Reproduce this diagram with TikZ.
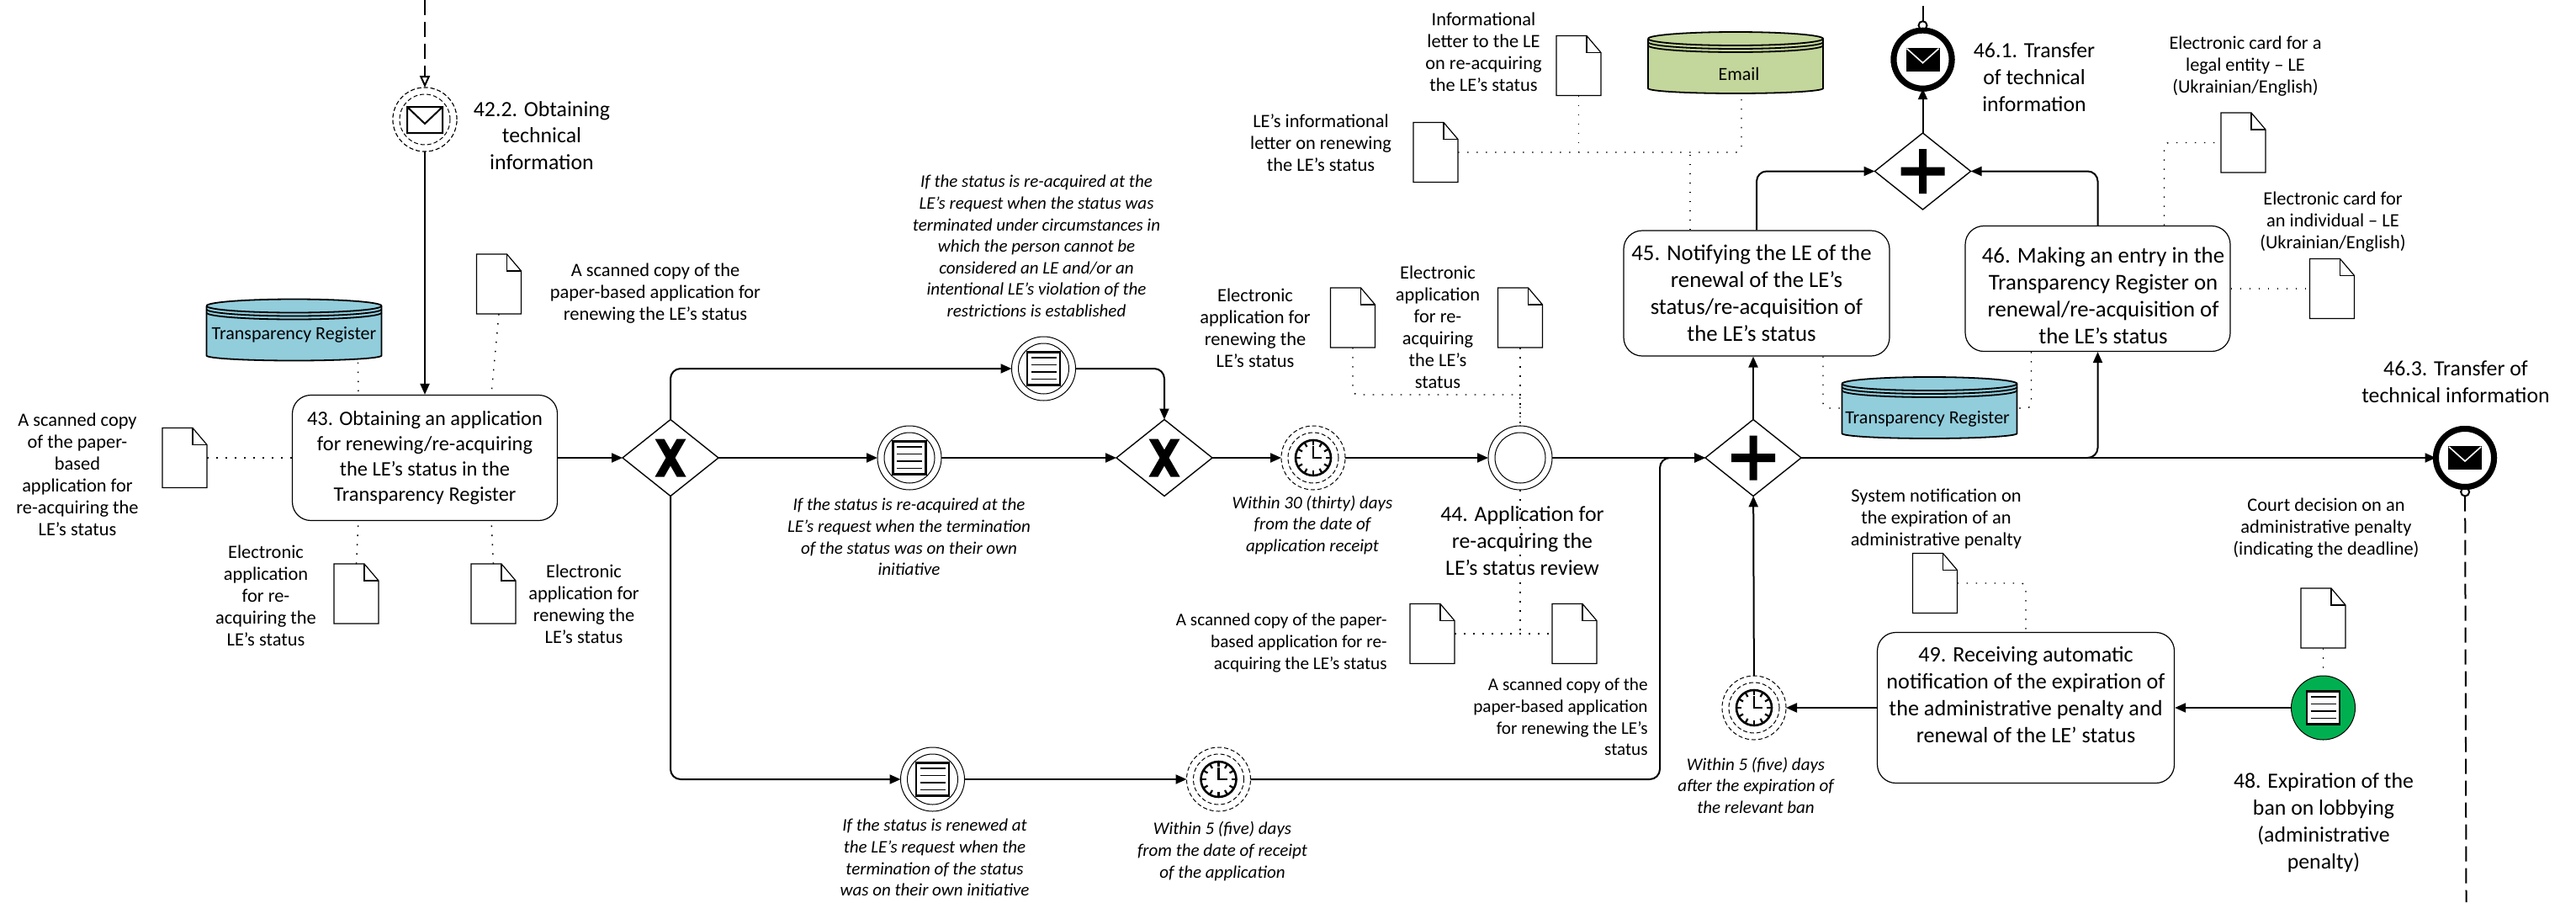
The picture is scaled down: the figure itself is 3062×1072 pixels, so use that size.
\documentclass[tikz,border=0pt]{standalone}
\usepackage{fontspec}
\setmainfont{Carlito}
\usetikzlibrary{shapes,arrows,arrows.meta,positioning}
\tikzset{flow/.style={draw,line width=1pt,rounded corners=6pt,-{Triangle[length=6.5pt,width=5.5pt]}}}
\tikzset{assoc/.style={draw,line width=0.7pt,dash pattern=on 0.8pt off 4.7pt,rounded corners=3pt}}
\tikzset{msgflow/.style={draw,line width=1pt,dash pattern=on 9pt off 4pt}}
\tikzset{taskbox/.style={rectangle,draw,fill=white,rounded corners=11pt,line width=0.6pt,align=center,inner sep=0pt,font=\fontsize{13.4}{16}\selectfont}}
\tikzset{gate/.style={diamond,draw,fill=white,line width=0.7pt,inner sep=0pt,outer sep=0pt,minimum width=57pt,minimum height=45.5pt}}
\tikzset{ev/.style={circle,draw,fill=white,line width=0.5pt,inner sep=0pt,outer sep=0pt,minimum size=38pt}}
\tikzset{evdash/.style={ev,dash pattern=on 2.5pt off 1.5pt}}
\tikzset{evend/.style={ev,line width=3.5pt,minimum size=34.5pt}}
\tikzset{docbase/.style={rectangle,inner sep=0pt,outer sep=0pt,minimum width=26.5pt,minimum height=35.5pt}}
\tikzset{dbbase/.style={rectangle,inner sep=0pt,outer sep=0pt,minimum width=104pt,minimum height=38pt}}
\tikzset{lbl/.style={align=center,inner sep=0pt,font=\fontsize{11.2}{13}\selectfont}}
\tikzset{lblsm/.style={lbl,align=right,anchor=east,font=\fontsize{10.6}{12.8}\selectfont}}
\tikzset{lblit/.style={lbl,font=\fontsize{10.5}{12.8}\selectfont\itshape}}
\tikzset{lblbig/.style={align=center,inner sep=0pt,font=\fontsize{12.9}{15.9}\selectfont}}
\definecolor{regblue}{RGB}{146,205,220}
\definecolor{mailgreen}{RGB}{195,214,155}
\definecolor{startgreen}{RGB}{0,176,80}
% document with a folded corner
\newcommand{\docnode}[2]{
  \node[docbase,#2] (#1) {};
  \draw[line width=0.6pt,fill=white] (#1.north west) -- ([xshift=-8.5pt]#1.north east) -- ([yshift=-10pt]#1.north east) -- (#1.south east) -- (#1.south west) -- cycle;
  \draw[line width=0.6pt] ([xshift=-8.5pt]#1.north east) -- ([xshift=-8.5pt,yshift=-10pt]#1.north east) -- ([yshift=-10pt]#1.north east);
}
\newcommand{\dbnode}[5]{
  \node[dbbase] (#1) at #2 {};
  \draw[shift={(#1.center)},line width=0.9pt,fill=#3] (-104,-29) -- (-104,30) arc[start angle=180,end angle=360,x radius=52pt,y radius=3pt] -- (104,-29) arc[start angle=0,end angle=180,x radius=52pt,y radius=4pt];
  \draw[shift={(#1.center)},line width=0.9pt] (-104,-29) arc[start angle=180,end angle=360,x radius=52pt,y radius=4pt];
  \draw[shift={(#1.center)},line width=0.9pt] (-104,-25) arc[start angle=180,end angle=360,x radius=52pt,y radius=4pt];
  \draw[shift={(#1.center)},line width=0.9pt] (-104,-21) arc[start angle=180,end angle=360,x radius=52pt,y radius=4pt];
  \node[inner sep=0pt,font=\fontsize{11}{13}\selectfont] (#1text) at ([#5]#1.center) {#4};
}
\newcommand{\ringin}[2][]{\draw[line width=0.5pt,#1] (#2.center) circle[radius=15pt];}
\newcommand{\envopen}[1]{
  \draw[shift={(#1.center)},line width=1pt] (-21,-15) rectangle (21,16) (-21,-15) -- (0,5) -- (21,-15);
}
\newcommand{\envfull}[1]{
  \fill[shift={(#1.center)}] (-20,-14) rectangle (20,14);
  \draw[shift={(#1.center)},white,line width=0.8pt] (-19,-13) -- (0,4) -- (19,-13);
}
\newcommand{\listsym}[1]{
  \draw[shift={(#1.center)},line width=1.2pt,fill=white] (-19.5,-19.5) rectangle (19.5,19.5);
  \foreach \ly in {-13,-4.5,4,12.5}
    \draw[shift={(#1.center)},line width=0.8pt] (-15,\ly) -- (15,\ly);
}
\newcommand{\clocksym}[1]{
  \draw[line width=1.3pt] (#1.center) circle[radius=10.5pt];
  \foreach \a in {0,30,...,330}
    \draw[line width=1.1pt] ([shift={(\a:7.5pt)}]#1.center) -- ([shift={(\a:10.5pt)}]#1.center);
  \draw[shift={(#1.center)},line width=1.1pt] (0,-14) -- (0,0) -- (10,0);
}
\newcommand{\xsym}[1]{
  \fill[shift={(#1.center)}] (-18.5,-22.5) -- (-7.5,-22.5) -- (18.5,22.5) -- (7.5,22.5) -- cycle;
  \fill[shift={(#1.center)}] (18.5,-22.5) -- (7.5,-22.5) -- (-18.5,22.5) -- (-7.5,22.5) -- cycle;
}
\newcommand{\plussym}[1]{
  \fill[shift={(#1.center)}] (-26,-5) rectangle (26,5) (-4.5,-26.5) rectangle (4.5,26.5);
}
\newcommand{\lpad}{\hspace*{6.5pt}}
\newcommand{\rpad}{\hspace*{6pt}}

\begin{document}
\begin{tikzpicture}[x=0.5pt,y=-0.5pt]
    \useasboundingbox (0,0) rectangle (3062,1072);

    \coordinate (topa) at (505,0);
    \coordinate (topb) at (2285.5,0);
    \coordinate (botb) at (2931.5,1072);
    \coordinate (bend) at (1973,544);

    \node[taskbox,minimum width=157.5pt,minimum height=74.5pt,font=\fontsize{12.2}{15}\selectfont] (box43) at (505,544) {43. Obtaining an application \\ for renewing/re-acquiring \\ the LE’s status in the \\ Transparency Register};
    \node[gate,right of=box43,node distance=146pt] (xa) {};
    \node[ev,right of=xa,node distance=142pt] (evmid) {};
    \node[gate,right of=evmid,node distance=151.5pt] (xb) {};
    \node[evdash,right of=xb,node distance=88.5pt] (tmmid) {};
    \node[ev,right of=tmmid,node distance=123pt] (ev44) {};
    \node[gate,right of=ev44,node distance=138.5pt] (plusa) {};
    \node[evend,right of=plusa,node distance=423pt] (end463) {};
    \node[ev] (evtop) at (1240.5,438) {};
    \node[ev] (evbot) at (1108.5,926) {};
    \node[evdash,right of=evbot,node distance=170pt] (tmbot) {};
    \node[evdash] (ev422) at (505,142) {};
    \node[gate] (plusb) at (2285.5,203.5) {};
    \node[evend] (end461) at (2285.5,70.7) {};
    \node[taskbox,minimum width=158pt,minimum height=74.5pt] (box45) at (2088,348.5) {45. Notifying the LE of the\rpad \\ renewal of the LE’s\rpad \\ status/re-acquisition of\rpad \\ the LE’s status\rpad};
    \node[taskbox,minimum width=157.5pt,minimum height=74.5pt] (box46) at (2493.5,343) {\rule{0pt}{18pt}\lpad 46. Making an entry in the \\ \lpad Transparency Register on \\ \lpad renewal/re-acquisition of \\ \lpad the LE’s status};
    \node[taskbox,minimum width=176.5pt,minimum height=89.5pt,font=\fontsize{13.1}{16}\selectfont] (box49) at (2408,841) {49. Receiving automatic \\ notification of the expiration of \\ the administrative penalty and \\ renewal of the LE’ status \\ \mbox{}};
    \node[evdash] (tmplus) at (2085,841) {};
    \node[ev,fill=startgreen] (ev48) at (2761.5,841) {};

    % data stores
    \dbnode{regA}{(349.5,392.5)}{regblue}{Transparency Register}{yshift=-2.8pt}
    \dbnode{regB}{(2293.5,485)}{regblue}{Transparency Register}{xshift=-1.2pt,yshift=-6.5pt}
    \dbnode{mail}{(2063,75)}{mailgreen}{Email}{xshift=2pt,yshift=-6.5pt}

    % documents
    \docnode{docA}{at={(593,337.5)}}
    \docnode{docB}{at={(219.5,544)}}
    \docnode{docC}{at={(423.5,705.5)}}
    \docnode{docD}{at={(586.5,705.5)}}
    \docnode{docE}{at={(1608,377.5)}}
    \docnode{docF}{at={(1807,377.5)}}
    \docnode{docG}{at={(1876.5,78)}}
    \docnode{docH}{at={(1706.5,181)}}
    \docnode{docI}{at={(1702.5,753)}}
    \docnode{docJ}{at={(1871.5,753)}}
    \docnode{docK}{at={(2666.5,169.5)}}
    \docnode{docL}{at={(2772,343)}}
    \docnode{docM}{at={(2300,693)}}
    \docnode{docN}{at={(2761.5,734.5)}}

    % labels
    \node[lblbig] (lb422) at (644,161) {42.2. Obtaining \\ technical \\ information};
    \node[lbl] (lbA) at (779,348.5) {A scanned copy of the \\ paper-based application for \\ renewing the LE’s status};
    \node[lbl] (lbB) at (92,563.5) {A scanned copy \\ of the paper- \\ based \\ application for \\ re-acquiring the \\ LE’s status};
    \node[lbl] (lbC) at (316,707.5) {Electronic \\ application \\ for re- \\ acquiring the \\ LE’s status};
    \node[lbl] (lbD) at (694,718) {Electronic \\ application for \\ renewing the \\ LE’s status};
    \node[lbl] (lbE) at (1492,390) {Electronic \\ application for \\ renewing the \\ LE’s status};
    \node[lbl] (lbF) at (1709,388.5) {Electronic \\ application \\ for re- \\ acquiring \\ the LE’s \\ status};
    \node[lbl] (lbG) at (1763.5,62) {Informational \\ letter to the LE \\ on re-acquiring \\ the LE’s status};
    \node[lbl] (lbH) at (1570,169.5) {LE’s informational \\ letter on renewing \\ the LE’s status};
    \node[lblsm] (lbI) at (1649,764) {A scanned copy of the paper- \\ based application for re- \\ acquiring the LE’s status};
    \node[lblsm] (lbJ) at (1959,852) {A scanned copy of the \\ paper-based application \\ for renewing the LE’s \\ status};
    \node[lbl] (lbK) at (2669,79) {Electronic card for a \\ legal entity – LE \\ (Ukrainian/English)};
    \node[lbl] (lbL) at (2773,264) {Electronic card for \\ an individual – LE \\ (Ukrainian/English)};
    \node[lbl] (lbM) at (2301.5,617) {System notification on \\ the expiration of an \\ administrative penalty};
    \node[lbl] (lbN) at (2765,628) {Court decision on an \\ administrative penalty \\ (indicating the deadline)};
    \node[lblit] (itA) at (1232,292.5) {If the status is re-acquired at the \\ LE’s request when the status was \\ terminated under circumstances in \\ which the person cannot be \\ considered an LE and/or an \\ intentional LE’s violation of the \\ restrictions is established};
    \node[lblit] (itB) at (1080.5,638) {If the status is re-acquired at the \\ LE’s request when the termination \\ of the status was on their own \\ initiative};
    \node[lblit] (itC) at (1111,1019) {If the status is renewed at \\ the LE’s request when the \\ termination of the status \\ was on their own initiative};
    \node[lblit] (itD) at (1560,624) {Within 30 (thirty) days \\ from the date of \\ application receipt};
    \node[lblit] (itE) at (1453,1011.5) {Within 5 (five) days \\ from the date of receipt \\ of the application};
    \node[lblit] (itF) at (2087,933) {Within 5 (five) days \\ after the expiration of \\ the relevant ban};
    \node[lblbig] (lb44) at (1809.5,642.5) {44. Application for \\ re-acquiring the \\ LE’s status review};
    \node[lblbig] (lb461) at (2418,91.5) {46.1. Transfer \\ of technical \\ information};
    \node[lblbig] (lb463) at (2919,454) {46.3. Transfer of \\ technical information};
    \node[lblbig] (lb48) at (2762,977.5) {48. Expiration of the \\ ban on lobbying \\ (administrative \\ penalty)};

    % dotted associations
    \path[assoc] ([xshift=38pt]regA.south) -- ([xshift=-39.5pt]box43.north);
    \path[assoc] (docA.south) -- ([xshift=39.5pt]box43.north);
    \path[assoc] (docB) -- (box43);
    \path[assoc] (docC.north) -- ([xshift=-39.5pt]box43.south);
    \path[assoc] (docD.north) -- ([xshift=39.5pt]box43.south);
    \path[assoc] (docE.south) |- (ev44.north |- 0,469) -- (ev44.north);
    \path[assoc] (docF.south) -- (ev44.north);
    \path[assoc] (ev44.south) -- (ev44.south |- docI);
    \path[assoc] (docI) -- (docJ);
    \path[assoc] (docH) -- ([xshift=3.5pt]mail.south |- docH) -- ([xshift=3.5pt]mail.south);
    \path[assoc] (docG.south) -- (docG.south |- docH);
    \path[assoc] ([xshift=-39.5pt]box45.north) -- ([xshift=-39.5pt]box45.north |- docH);
    \path[assoc] ([xshift=39.5pt]box45.south) |- (regB.west);
    \path[assoc] ([xshift=39.5pt]box46.north) |- (docK.west);
    \path[assoc] (box46) -- (docL);
    \path[assoc] ([xshift=-39.5pt]box46.south) |- (regB.east);
    \path[assoc] (docM) -| (box49.north);
    \path[assoc] (docN.south) -- (ev48.north);

    % sequence flows
    \path[flow] (ev422) -- (box43);
    \path[flow] (box43) -- (xa);
    \path[flow] (xa.north) |- (evtop);
    \path[flow] (evtop) -| (xb.north);
    \path[flow] (xa) -- (evmid);
    \path[flow] (evmid) -- (xb);
    \path[flow] (xb) -- (tmmid);
    \path[flow] (tmmid) -- (ev44);
    \path[flow] (ev44) -- (plusa);
    \path[flow] (xa.south) |- (evbot);
    \path[flow] (evbot) -- (tmbot);
    \path[flow] (tmbot) -| (bend) -- (plusa);
    \path[flow] (plusa.north) -- (plusa.north |- box45.south);
    \path[flow] (plusa.east) -| (box46.south);
    \path[flow] (plusa) -- (end463);
    \path[flow] (box45.north) |- (plusb.west);
    \path[flow] (box46.north) |- (plusb.east);
    \path[flow] (plusb) -- (end461);
    \path[flow] (tmplus) -- (plusa);
    \path[flow] (box49) -- (tmplus);
    \path[flow] (ev48) -- (box49);

    % message flows
    \path[msgflow,-{Triangle[open,fill=white,length=7pt,width=6pt]}] (topa) -- (ev422);
    \path[msgflow,{Circle[open,fill=white,length=6pt,width=6pt]}-] (end461) -- (topb);
    \path[msgflow,{Circle[open,fill=white,length=6pt,width=6pt]}-] (end463) -- (botb);

    % symbols on top of the events
    \xsym{xa}
    \xsym{xb}
    \plussym{plusa}
    \plussym{plusb}
    \node[evdash] (ev422r) at (ev422) {};
    \ringin[dash pattern=on 2.5pt off 1.5pt]{ev422}
    \envopen{ev422}
    \node[evend] (end461r) at (end461) {};
    \envfull{end461}
    \node[evend] (end463r) at (end463) {};
    \envfull{end463}
    \ringin{evmid}
    \listsym{evmid}
    \ringin{evtop}
    \listsym{evtop}
    \ringin{evbot}
    \listsym{evbot}
    \ringin{ev44}
    \ringin[dash pattern=on 2.5pt off 1.5pt]{tmmid}
    \clocksym{tmmid}
    \ringin[dash pattern=on 2.5pt off 1.5pt]{tmbot}
    \clocksym{tmbot}
    \ringin[dash pattern=on 2.5pt off 1.5pt]{tmplus}
    \clocksym{tmplus}
    \listsym{ev48}
\end{tikzpicture}
\end{document}
